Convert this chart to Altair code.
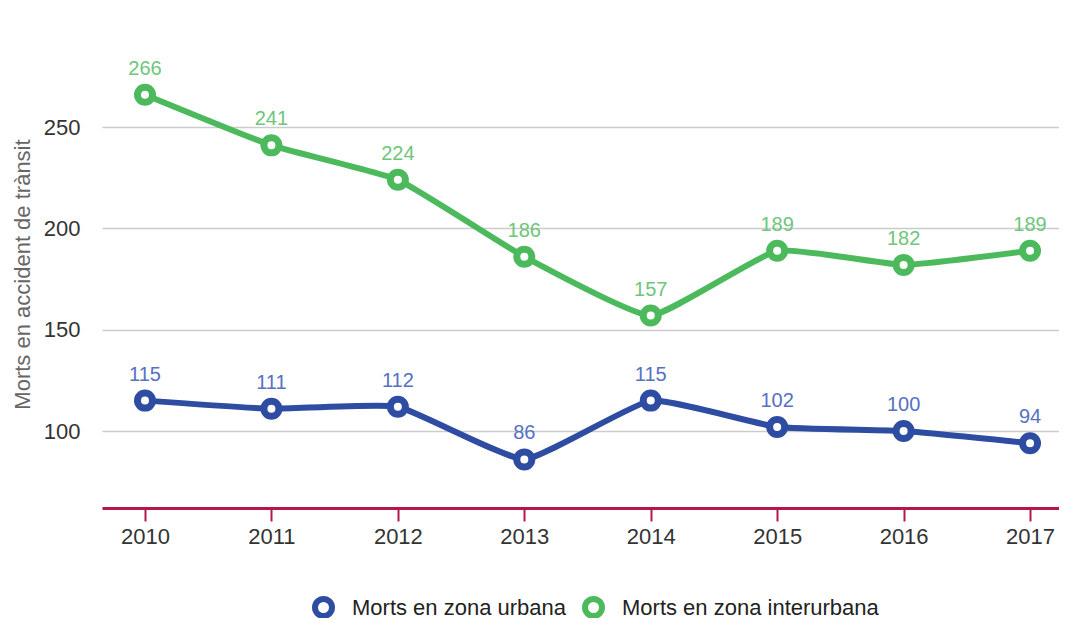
import altair as alt
import pandas as pd

years = [2010, 2011, 2012, 2013, 2014, 2015, 2016, 2017]
urbana = [115, 111, 112, 86, 115, 102, 100, 94]
interurbana = [266, 241, 224, 186, 157, 189, 182, 189]
series_names = ["Morts en zona urbana", "Morts en zona interurbana"]
line_colors = ["#2d4ca2", "#4cba5c"]
label_colors = ["#5670c2", "#6dc67a"]
y_ticks = [100, 150, 200, 250]

rows = []
for name, vals in zip(series_names, [urbana, interurbana]):
    for yr, v in zip(years, vals):
        rows.append({"year": yr, "value": v, "series": name})
df = pd.DataFrame(rows)

FONT = "Liberation Sans"

x = alt.X("year:Q", title=None,
          scale=alt.Scale(domain=[2009.66, 2017.229], nice=False, zero=False),
          axis=alt.Axis(values=years, format="d", labelAngle=0, labelFontSize=22,
                        labelColor="#333333", labelFont=FONT, labelPadding=5,
                        labelFlush=False, labelOverlap=False,
                        domainColor="#b5174a", domainWidth=3,
                        tickColor="#b5174a", tickWidth=2, tickSize=13,
                        grid=False))
y = alt.Y("value:Q", title="Morts en accident de trànsit",
          scale=alt.Scale(domain=[62, 293], nice=False, zero=False),
          axis=alt.Axis(values=y_ticks, labelFontSize=22, labelColor="#333333",
                        labelFont=FONT, labelPadding=22,
                        domain=False, ticks=False, gridColor="#cccccc",
                        gridWidth=1.5, titleFont=FONT, titleFontSize=22,
                        titleFontWeight="normal", titleColor="#666666",
                        titlePadding=9))

color_scale = alt.Scale(domain=series_names, range=line_colors)

lines = alt.Chart(df).mark_line(strokeWidth=6, interpolate="cardinal", tension=0.6,
                                strokeJoin="round").encode(
    x=x, y=y,
    color=alt.Color("series:N", scale=color_scale, legend=None),
)

points = alt.Chart(df).mark_point(filled=False, fill="white", fillOpacity=1,
                                  size=225, strokeWidth=7, opacity=1).encode(
    x=x, y=y,
    color=alt.Color("series:N", scale=color_scale,
                    legend=alt.Legend(title=None, orient="none", direction="horizontal",
                                      legendX=210, legendY=556,
                                      labelFont=FONT, labelFontSize=22,
                                      labelColor="#222222", symbolType="circle",
                                      symbolSize=289, symbolStrokeWidth=6,
                                      symbolFillColor="white", columnPadding=6,
                                      labelOffset=17, labelLimit=400)),
)

labels = alt.Chart(df).mark_text(dy=-26, fontSize=20, font=FONT, baseline="middle").encode(
    x=x, y=y,
    text=alt.Text("value:Q"),
    color=alt.Color("series:N", scale=alt.Scale(domain=series_names, range=label_colors),
                    legend=None),
)

chart = alt.layer(lines, points, labels).resolve_scale(color="independent").properties(
    width=957, height=468,
    autosize=alt.AutoSizeParams(type="none"),
    padding={"left": 94, "top": 32, "right": 0, "bottom": 110},
).configure_view(stroke=None)

chart.save("out.html", embed_options={"renderer": "svg", "actions": False})
